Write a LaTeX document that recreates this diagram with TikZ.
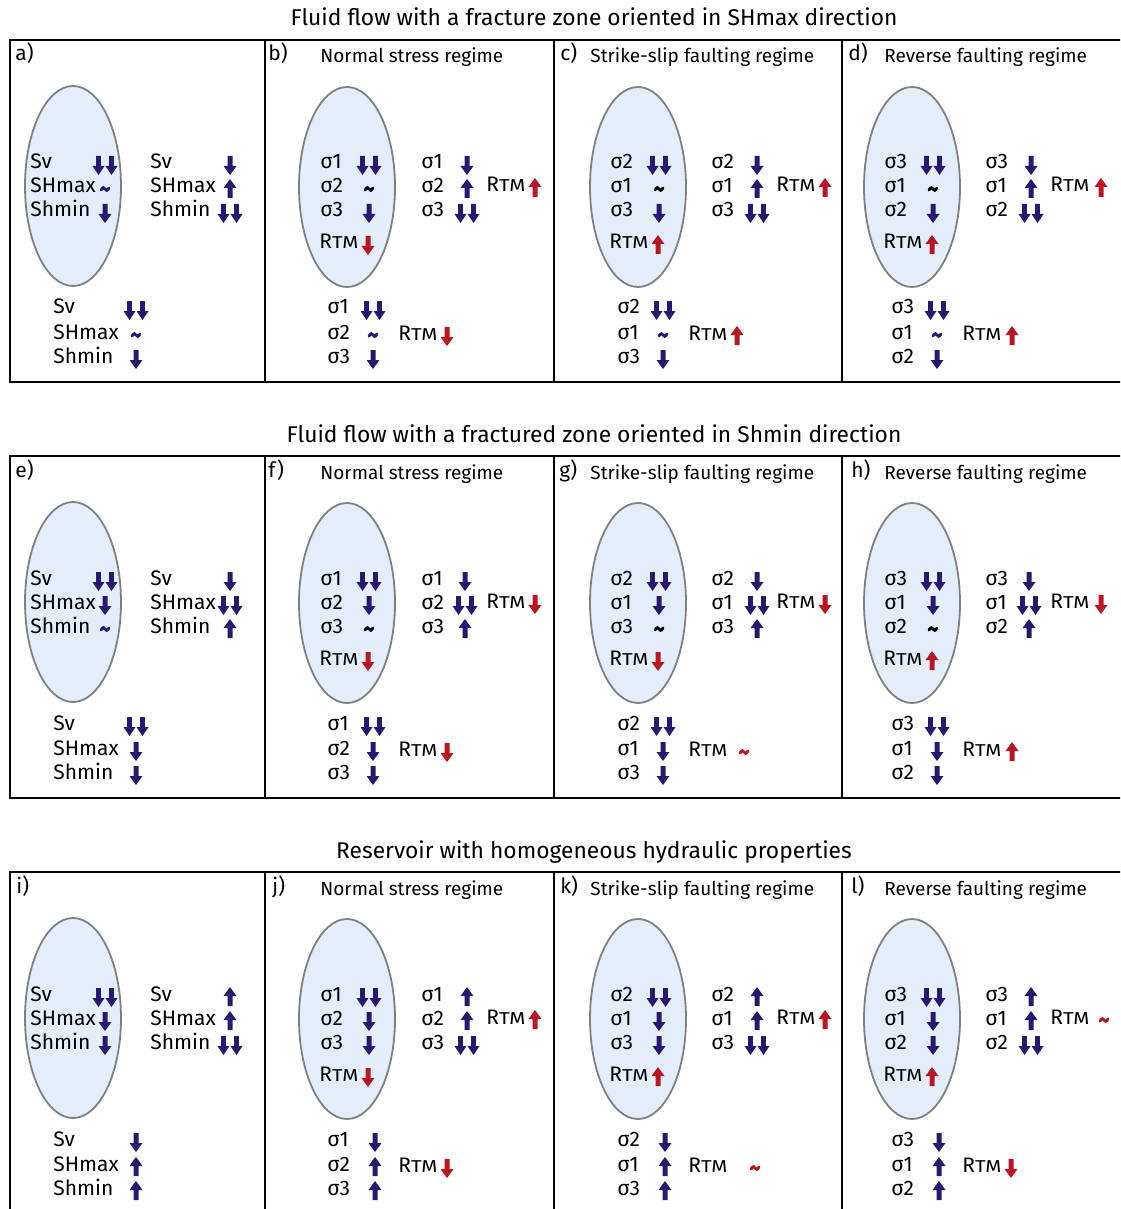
\documentclass[tikz,border=0pt]{standalone}
\usepackage{fontspec}
\setmainfont{Fira Sans}
\definecolor{stressblue}{RGB}{40,24,112}
\definecolor{rtmred}{RGB}{185,22,34}
\definecolor{zonefill}{RGB}{228,237,250}
\definecolor{zoneline}{RGB}{128,128,128}
\newcommand{\rtm}{R\scalebox{1.2}[1]{\fontsize{8.6}{9}\selectfont TM}}
\tikzset{
  panel/.style={line width=1pt},
  zone/.style={fill=zonefill, draw=zoneline, line width=0.9pt},
  ttl/.style={anchor=base, inner sep=0pt, font=\fontsize{11.4}{13}\selectfont},
  sub/.style={anchor=base west, inner sep=0pt, font=\fontsize{9.5}{11}\selectfont},
  lab/.style={anchor=base west, inner sep=0pt, font=\fontsize{10.5}{12}\selectfont},
  sb/.style={color=stressblue},
  sk/.style={color=black},
  sr/.style={color=rtmred},
  stressdn/.pic={\fill[pic actions] (-2.5,-9) -- (2.5,-9) -- (2.5,1) -- (6.5,1) -- (0,10) -- (-6.5,1) -- (-2.5,1) -- cycle;},
  stressup/.pic={\fill[pic actions] (-2.5,9) -- (2.5,9) -- (2.5,-1) -- (6.5,-1) -- (0,-10) -- (-6.5,-1) -- (-2.5,-1) -- cycle;},
  stressdd/.pic={\fill[pic actions] (-8.8,-9) -- (-4.2,-9) -- (-4.2,1) -- (-0.5,1) -- (-6.5,10) -- (-12.5,1) -- (-8.8,1) -- cycle
                   (4.2,-9) -- (8.8,-9) -- (8.8,1) -- (12.5,1) -- (6.5,10) -- (0.5,1) -- (4.2,1) -- cycle;},
  stresstl/.pic={\draw[pic actions, line width=1.4pt, line cap=round] (-4,1) .. controls (-2,-2.5) and (-1,-1.5) .. (0,0) .. controls (1,1.5) and (2,2.5) .. (4,-1);}
}
\begin{document}
\begin{tikzpicture}[x=0.5pt, y=-0.5pt]
\fill[white] (0,0) rectangle (1120,1209);
\clip (0,0) rectangle (1120,1209);

% ---- row 1: fracture zone along SHmax
\node[ttl] (t1) at (594,26) {Fluid flow with a fracture zone oriented in SHmax direction};
\draw[panel] (10,40) rectangle (1130,382);
\draw[panel] (265,40) -- (265,382) (554,40) -- (554,382) (842,40) -- (842,382);
\node[lab] (la) at (15,61) {a)};
\node[lab] (lb) at (268,61) {b)};
\node[lab] (lc) at (560,61) {c)};
\node[lab] (ld) at (848,61) {d)};
\node[sub] (sb1) at (320,63) {Normal stress regime};
\node[sub] (sc1) at (590,63) {Strike-slip faulting regime};
\node[sub] (sd1) at (884,63) {Reverse faulting regime};

\begin{scope}[shift={(0,40)}]
\draw[zone] (73,146) ellipse [x radius=48, y radius=100];
\node[lab] (a1) at (30,129) {Sv};    \pic[sb] at (105,125) {stressdd};
\node[lab] (a2) at (30,153) {SHmax}; \pic[sb] at (105,149) {stresstl};
\node[lab] (a3) at (30,177) {Shmin}; \pic[sb] at (105,173) {stressdn};
\node[lab] (a4) at (150,129) {Sv};    \pic[sb] at (230,125) {stressdn};
\node[lab] (a5) at (150,153) {SHmax}; \pic[sb] at (230,149) {stressup};
\node[lab] (a6) at (150,177) {Shmin}; \pic[sb] at (230,173) {stressdd};
\node[lab] (a7) at (53,274) {Sv};    \pic[sb] at (136,270) {stressdd};
\node[lab] (a8) at (53,299) {SHmax}; \pic[sb] at (136,295) {stresstl};
\node[lab] (a9) at (53,323) {Shmin}; \pic[sb] at (136,319) {stressdn};
\end{scope}

\begin{scope}[shift={(265,40)}]
\draw[zone] (82,147) ellipse [x radius=48, y radius=100];
\node[lab] (b1) at (55,129) {σ1}; \pic[sb] at (104,125) {stressdd};
\node[lab] (b2) at (55,153) {σ2}; \pic[sk] at (104,149) {stresstl};
\node[lab] (b3) at (55,177) {σ3}; \pic[sb] at (104,173) {stressdn};
\node[lab] (b4) at (54,209) {\rtm}; \pic[sr] at (103,205) {stressdn};
\node[lab] (b5) at (156,129) {σ1}; \pic[sb] at (202,125) {stressdn};
\node[lab] (b6) at (156,153) {σ2}; \pic[sb] at (202,149) {stressup};
\node[lab] (b7) at (156,177) {σ3}; \pic[sb] at (202,173) {stressdd};
\node[lab] (b8) at (221,152) {\rtm}; \pic[sr] at (270,148) {stressup};
\node[lab] (b9) at (62,274) {σ1}; \pic[sb] at (108,270) {stressdd};
\node[lab] (b10) at (62,299) {σ2}; \pic[sb] at (108,295) {stresstl};
\node[lab] (b11) at (62,323) {σ3}; \pic[sb] at (108,319) {stressdn};
\node[lab] (b12) at (133,300) {\rtm}; \pic[sr] at (182,296) {stressdn};
\end{scope}

\begin{scope}[shift={(555,40)}]
\draw[zone] (83,147) ellipse [x radius=48, y radius=100];
\node[lab] (c1) at (55,129) {σ2}; \pic[sb] at (104,125) {stressdd};
\node[lab] (c2) at (55,153) {σ1}; \pic[sk] at (104,149) {stresstl};
\node[lab] (c3) at (55,177) {σ3}; \pic[sb] at (104,173) {stressdn};
\node[lab] (c4) at (54,209) {\rtm}; \pic[sr] at (103,205) {stressup};
\node[lab] (c5) at (156,129) {σ2}; \pic[sb] at (202,125) {stressdn};
\node[lab] (c6) at (156,153) {σ1}; \pic[sb] at (202,149) {stressup};
\node[lab] (c7) at (156,177) {σ3}; \pic[sb] at (202,173) {stressdd};
\node[lab] (c8) at (221,152) {\rtm}; \pic[sr] at (270,148) {stressup};
\node[lab] (c9) at (62,274) {σ2}; \pic[sb] at (108,270) {stressdd};
\node[lab] (c10) at (62,299) {σ1}; \pic[sb] at (108,295) {stresstl};
\node[lab] (c11) at (62,323) {σ3}; \pic[sb] at (108,319) {stressdn};
\node[lab] (c12) at (133,300) {\rtm}; \pic[sr] at (182,296) {stressup};
\end{scope}

\begin{scope}[shift={(829,40)}]
\draw[zone] (83,147) ellipse [x radius=48, y radius=100];
\node[lab] (d1) at (55,129) {σ3}; \pic[sb] at (104,125) {stressdd};
\node[lab] (d2) at (55,153) {σ1}; \pic[sk] at (104,149) {stresstl};
\node[lab] (d3) at (55,177) {σ2}; \pic[sb] at (104,173) {stressdn};
\node[lab] (d4) at (54,209) {\rtm}; \pic[sr] at (103,205) {stressup};
\node[lab] (d5) at (156,129) {σ3}; \pic[sb] at (202,125) {stressdn};
\node[lab] (d6) at (156,153) {σ1}; \pic[sb] at (202,149) {stressup};
\node[lab] (d7) at (156,177) {σ2}; \pic[sb] at (202,173) {stressdd};
\node[lab] (d8) at (221,152) {\rtm}; \pic[sr] at (272,148) {stressup};
\node[lab] (d9) at (62,274) {σ3}; \pic[sb] at (108,270) {stressdd};
\node[lab] (d10) at (62,299) {σ1}; \pic[sb] at (108,295) {stresstl};
\node[lab] (d11) at (62,323) {σ2}; \pic[sb] at (108,319) {stressdn};
\node[lab] (d12) at (133,300) {\rtm}; \pic[sr] at (183,296) {stressup};
\end{scope}

% ---- row 2: fractured zone along Shmin
\node[ttl] (t2) at (594,442) {Fluid flow with a fractured zone oriented in Shmin direction};
\draw[panel] (10,456) rectangle (1130,798);
\draw[panel] (265,456) -- (265,798) (554,456) -- (554,798) (842,456) -- (842,798);
\node[lab] (le) at (15,477) {e)};
\node[lab] (lf) at (268,477) {f)};
\node[lab] (lg) at (559,477) {g)};
\node[lab] (lh) at (851,477) {h)};
\node[sub] (sf1) at (320,479) {Normal stress regime};
\node[sub] (sg1) at (590,479) {Strike-slip faulting regime};
\node[sub] (sh1) at (884,479) {Reverse faulting regime};

\begin{scope}[shift={(0,456)}]
\draw[zone] (73,146) ellipse [x radius=48, y radius=100];
\node[lab] (e1) at (30,129) {Sv};    \pic[sb] at (105,125) {stressdd};
\node[lab] (e2) at (30,153) {SHmax}; \pic[sb] at (105,149) {stressdn};
\node[lab] (e3) at (30,177) {Shmin}; \pic[sb] at (105,173) {stresstl};
\node[lab] (e4) at (150,129) {Sv};    \pic[sb] at (230,125) {stressdn};
\node[lab] (e5) at (150,153) {SHmax}; \pic[sb] at (230,149) {stressdd};
\node[lab] (e6) at (150,177) {Shmin}; \pic[sb] at (230,173) {stressup};
\node[lab] (e7) at (53,274) {Sv};    \pic[sb] at (136,270) {stressdd};
\node[lab] (e8) at (53,299) {SHmax}; \pic[sb] at (136,295) {stressdn};
\node[lab] (e9) at (53,323) {Shmin}; \pic[sb] at (136,319) {stressdn};
\end{scope}

\begin{scope}[shift={(265,456)}]
\draw[zone] (82,147) ellipse [x radius=48, y radius=100];
\node[lab] (f1) at (55,129) {σ1}; \pic[sb] at (104,125) {stressdd};
\node[lab] (f2) at (55,153) {σ2}; \pic[sb] at (104,149) {stressdn};
\node[lab] (f3) at (55,177) {σ3}; \pic[sk] at (104,173) {stresstl};
\node[lab] (f4) at (54,209) {\rtm}; \pic[sr] at (103,205) {stressdn};
\node[lab] (f5) at (156,129) {σ1}; \pic[sb] at (200,125) {stressdn};
\node[lab] (f6) at (156,153) {σ2}; \pic[sb] at (200,149) {stressdd};
\node[lab] (f7) at (156,177) {σ3}; \pic[sb] at (200,173) {stressup};
\node[lab] (f8) at (221,152) {\rtm}; \pic[sr] at (270,148) {stressdn};
\node[lab] (f9) at (62,274) {σ1}; \pic[sb] at (108,270) {stressdd};
\node[lab] (f10) at (62,299) {σ2}; \pic[sb] at (108,295) {stressdn};
\node[lab] (f11) at (62,323) {σ3}; \pic[sb] at (108,319) {stressdn};
\node[lab] (f12) at (133,300) {\rtm}; \pic[sr] at (182,296) {stressdn};
\end{scope}

\begin{scope}[shift={(555,456)}]
\draw[zone] (83,147) ellipse [x radius=48, y radius=100];
\node[lab] (g1) at (55,129) {σ2}; \pic[sb] at (104,125) {stressdd};
\node[lab] (g2) at (55,153) {σ1}; \pic[sb] at (104,149) {stressdn};
\node[lab] (g3) at (55,177) {σ3}; \pic[sk] at (104,173) {stresstl};
\node[lab] (g4) at (54,209) {\rtm}; \pic[sr] at (103,205) {stressdn};
\node[lab] (g5) at (156,129) {σ2}; \pic[sb] at (202,125) {stressdn};
\node[lab] (g6) at (156,153) {σ1}; \pic[sb] at (202,149) {stressdd};
\node[lab] (g7) at (156,177) {σ3}; \pic[sb] at (202,173) {stressup};
\node[lab] (g8) at (221,152) {\rtm}; \pic[sr] at (270,148) {stressdn};
\node[lab] (g9) at (62,274) {σ2}; \pic[sb] at (108,270) {stressdd};
\node[lab] (g10) at (62,299) {σ1}; \pic[sb] at (108,295) {stressdn};
\node[lab] (g11) at (62,323) {σ3}; \pic[sb] at (108,319) {stressdn};
\node[lab] (g12) at (133,300) {\rtm}; \pic[sr] at (189,296) {stresstl};
\end{scope}

\begin{scope}[shift={(829,456)}]
\draw[zone] (83,147) ellipse [x radius=48, y radius=100];
\node[lab] (h1) at (55,129) {σ3}; \pic[sb] at (104,125) {stressdd};
\node[lab] (h2) at (55,153) {σ1}; \pic[sb] at (104,149) {stressdn};
\node[lab] (h3) at (55,177) {σ2}; \pic[sk] at (104,173) {stresstl};
\node[lab] (h4) at (54,209) {\rtm}; \pic[sr] at (103,205) {stressup};
\node[lab] (h5) at (156,129) {σ3}; \pic[sb] at (200,125) {stressdn};
\node[lab] (h6) at (156,153) {σ1}; \pic[sb] at (200,149) {stressdd};
\node[lab] (h7) at (156,177) {σ2}; \pic[sb] at (200,173) {stressup};
\node[lab] (h8) at (221,152) {\rtm}; \pic[sr] at (272,148) {stressdn};
\node[lab] (h9) at (62,274) {σ3}; \pic[sb] at (108,270) {stressdd};
\node[lab] (h10) at (62,299) {σ1}; \pic[sb] at (108,295) {stressdn};
\node[lab] (h11) at (62,323) {σ2}; \pic[sb] at (108,319) {stressdn};
\node[lab] (h12) at (133,300) {\rtm}; \pic[sr] at (183,296) {stressup};
\end{scope}

% ---- row 3: homogeneous reservoir
\node[ttl] (t3) at (594,858) {Reservoir with homogeneous hydraulic properties};
\draw[panel] (10,872) rectangle (1130,1240);
\draw[panel] (265,872) -- (265,1240) (554,872) -- (554,1240) (842,872) -- (842,1240);
\node[lab] (li) at (16,893) {i)};
\node[lab] (lj) at (272,893) {j)};
\node[lab] (lk) at (560,893) {k)};
\node[lab] (ll) at (851,893) {l)};
\node[sub] (sj1) at (320,895) {Normal stress regime};
\node[sub] (sk1) at (590,895) {Strike-slip faulting regime};
\node[sub] (sl1) at (884,895) {Reverse faulting regime};

\begin{scope}[shift={(0,872)}]
\draw[zone] (73,146) ellipse [x radius=48, y radius=100];
\node[lab] (i1) at (30,129) {Sv};    \pic[sb] at (105,125) {stressdd};
\node[lab] (i2) at (30,153) {SHmax}; \pic[sb] at (105,149) {stressdn};
\node[lab] (i3) at (30,177) {Shmin}; \pic[sb] at (105,173) {stressdn};
\node[lab] (i4) at (150,129) {Sv};    \pic[sb] at (230,125) {stressup};
\node[lab] (i5) at (150,153) {SHmax}; \pic[sb] at (230,149) {stressup};
\node[lab] (i6) at (150,177) {Shmin}; \pic[sb] at (230,173) {stressdd};
\node[lab] (i7) at (53,274) {Sv};    \pic[sb] at (136,270) {stressdn};
\node[lab] (i8) at (53,299) {SHmax}; \pic[sb] at (136,295) {stressup};
\node[lab] (i9) at (53,323) {Shmin}; \pic[sb] at (136,319) {stressup};
\end{scope}

\begin{scope}[shift={(265,872)}]
\draw[zone] (82,147) ellipse [x radius=48, y radius=100];
\node[lab] (j1) at (55,129) {σ1}; \pic[sb] at (104,125) {stressdd};
\node[lab] (j2) at (55,153) {σ2}; \pic[sb] at (104,149) {stressdn};
\node[lab] (j3) at (55,177) {σ3}; \pic[sb] at (104,173) {stressdn};
\node[lab] (j4) at (54,209) {\rtm}; \pic[sr] at (103,205) {stressdn};
\node[lab] (j5) at (156,129) {σ1}; \pic[sb] at (202,125) {stressup};
\node[lab] (j6) at (156,153) {σ2}; \pic[sb] at (202,149) {stressup};
\node[lab] (j7) at (156,177) {σ3}; \pic[sb] at (202,173) {stressdd};
\node[lab] (j8) at (221,152) {\rtm}; \pic[sr] at (270,148) {stressup};
\node[lab] (j9) at (62,274) {σ1}; \pic[sb] at (110,270) {stressdn};
\node[lab] (j10) at (62,299) {σ2}; \pic[sb] at (110,295) {stressup};
\node[lab] (j11) at (62,323) {σ3}; \pic[sb] at (110,319) {stressup};
\node[lab] (j12) at (133,300) {\rtm}; \pic[sr] at (182,296) {stressdn};
\end{scope}

\begin{scope}[shift={(555,872)}]
\draw[zone] (83,147) ellipse [x radius=48, y radius=100];
\node[lab] (k1) at (55,129) {σ2}; \pic[sb] at (104,125) {stressdd};
\node[lab] (k2) at (55,153) {σ1}; \pic[sb] at (104,149) {stressdn};
\node[lab] (k3) at (55,177) {σ3}; \pic[sb] at (104,173) {stressdn};
\node[lab] (k4) at (54,209) {\rtm}; \pic[sr] at (103,205) {stressup};
\node[lab] (k5) at (156,129) {σ2}; \pic[sb] at (202,125) {stressup};
\node[lab] (k6) at (156,153) {σ1}; \pic[sb] at (202,149) {stressup};
\node[lab] (k7) at (156,177) {σ3}; \pic[sb] at (202,173) {stressdd};
\node[lab] (k8) at (221,152) {\rtm}; \pic[sr] at (270,148) {stressup};
\node[lab] (k9) at (62,274) {σ2}; \pic[sb] at (110,270) {stressdn};
\node[lab] (k10) at (62,299) {σ1}; \pic[sb] at (110,295) {stressup};
\node[lab] (k11) at (62,323) {σ3}; \pic[sb] at (110,319) {stressup};
\node[lab] (k12) at (133,300) {\rtm}; \pic[sr] at (200,296) {stresstl};
\end{scope}

\begin{scope}[shift={(829,872)}]
\draw[zone] (83,147) ellipse [x radius=48, y radius=100];
\node[lab] (l1) at (55,129) {σ3}; \pic[sb] at (104,125) {stressdd};
\node[lab] (l2) at (55,153) {σ1}; \pic[sb] at (104,149) {stressdn};
\node[lab] (l3) at (55,177) {σ2}; \pic[sb] at (104,173) {stressdn};
\node[lab] (l4) at (54,209) {\rtm}; \pic[sr] at (103,205) {stressup};
\node[lab] (l5) at (156,129) {σ3}; \pic[sb] at (202,125) {stressup};
\node[lab] (l6) at (156,153) {σ1}; \pic[sb] at (202,149) {stressup};
\node[lab] (l7) at (156,177) {σ2}; \pic[sb] at (202,173) {stressdd};
\node[lab] (l8) at (221,152) {\rtm}; \pic[sr] at (275,148) {stresstl};
\node[lab] (l9) at (62,274) {σ3}; \pic[sb] at (110,270) {stressdn};
\node[lab] (l10) at (62,299) {σ1}; \pic[sb] at (110,295) {stressup};
\node[lab] (l11) at (62,323) {σ2}; \pic[sb] at (110,319) {stressup};
\node[lab] (l12) at (133,300) {\rtm}; \pic[sr] at (182,296) {stressdn};
\end{scope}
\end{tikzpicture}
\end{document}
